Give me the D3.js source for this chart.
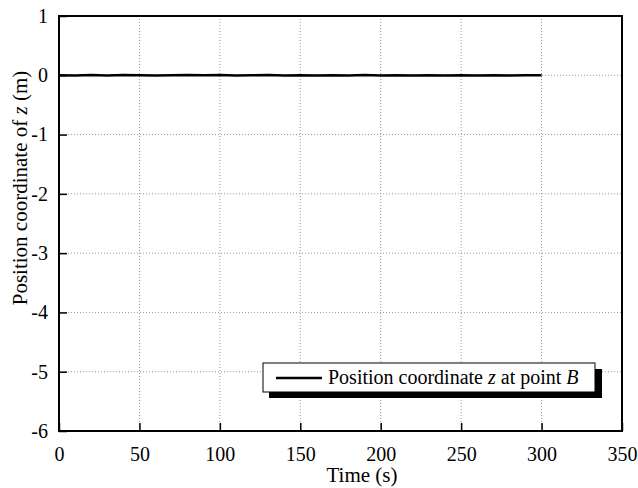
<!DOCTYPE html>
<html>
<head>
<meta charset="utf-8">
<script src="https://cdn.jsdelivr.net/npm/d3@7"></script>
</head>
<body style="margin:0;background:#fff">
<svg id="chart" width="638" height="488" font-family="Liberation Serif"></svg>
<script>
// time samples (s) and z coordinate at point B (m)
const times = [0, 10, 20, 30, 40, 50, 60, 70, 80, 90, 100, 110, 120, 130, 140, 150,
    160, 170, 180, 190, 200, 210, 220, 230, 240, 250, 260, 270, 280, 290, 300]
const zValues = [0.000, -0.004, 0.003, -0.002, 0.004, 0.001, -0.003, 0.002, 0.005, -0.001, 0.003,
    -0.004, 0.002, 0.004, -0.002, 0.001, -0.005, 0.002, -0.003, 0.003, -0.002, 0.001,
    -0.004, 0.002, -0.003, 0.000, -0.005, 0.002, -0.003, -0.001, 0.000]
const xTicks = [0, 50, 100, 150, 200, 250, 300, 350]
const yTicks = [1, 0, -1, -2, -3, -4, -5, -6]
const legendLabel = ['Position coordinate ', 'z', ' at point ', 'B']
const yTitle = ['Position coordinate of ', 'z', ' (m)']

const FONT = 'Liberation Serif'

const svg = d3.select('#chart')
const m = { left: 59, right: 622, top: 16, bottom: 431 }

const x = d3.scaleLinear().domain([0, 350]).range([m.left, m.right])
const y = d3.scaleLinear().domain([-6, 1]).range([m.bottom, m.top])

/// grid ////////
svg.append('g').selectAll('line')
    .data(xTicks.filter(d => d > 0 && d < 350))
    .join('line')
    .attr('x1', d => x(d)).attr('x2', d => x(d))
    .attr('y1', m.top).attr('y2', m.bottom)
    .attr('stroke', '#999').attr('stroke-width', 1).attr('stroke-dasharray', '1,2')

svg.append('g').selectAll('line')
    .data(yTicks.filter(d => d > -6 && d < 1))
    .join('line')
    .attr('x1', m.left).attr('x2', m.right)
    .attr('y1', d => y(d)).attr('y2', d => y(d))
    .attr('stroke', '#999').attr('stroke-width', 1).attr('stroke-dasharray', '1,2')

/// axes (inward ticks) ////////
const xAxis = d3.axisBottom(x).tickValues(xTicks).tickSize(-8).tickPadding(16)
const gx = svg.append('g').attr('transform', `translate(0,${m.bottom})`).call(xAxis)
gx.attr('font-family', FONT).attr('font-size', 20)
gx.select('.domain').remove()
gx.selectAll('line').attr('stroke', '#000').attr('stroke-width', 1.5)
gx.selectAll('text').attr('fill', '#000')

const yAxis = d3.axisLeft(y).tickValues(yTicks).tickSize(-8).tickPadding(11)
const gy = svg.append('g').attr('transform', `translate(${m.left},0)`).call(yAxis)
gy.attr('font-family', FONT).attr('font-size', 20)
gy.select('.domain').remove()
gy.selectAll('line').attr('stroke', '#000').attr('stroke-width', 1.5)
gy.selectAll('text').attr('fill', '#000')
    .text(d => d < 0 ? '-' + Math.abs(d) : d)

/// data line ////////
const line = d3.line().x((d, i) => x(times[i])).y(d => y(d))
svg.append('path')
    .datum(zValues)
    .attr('d', line)
    .attr('fill', 'none')
    .attr('stroke', '#000')
    .attr('stroke-width', 2.5)

/// frame ////////
svg.append('rect')
    .attr('x', m.left).attr('y', m.top)
    .attr('width', m.right - m.left).attr('height', m.bottom - m.top)
    .attr('fill', 'none').attr('stroke', '#000').attr('stroke-width', 2)

/// legend ////////
const lg = svg.append('g')
lg.append('rect').attr('x', 269).attr('y', 369).attr('width', 333).attr('height', 29).attr('fill', '#000')
lg.append('rect').attr('x', 263).attr('y', 363).attr('width', 332).attr('height', 29)
    .attr('fill', '#fff').attr('stroke', '#000').attr('stroke-width', 1)
lg.append('line').attr('x1', 276).attr('x2', 322).attr('y1', 378).attr('y2', 378)
    .attr('stroke', '#000').attr('stroke-width', 2.5)
lg.append('text').attr('x', 328).attr('y', 384)
    .attr('font-family', FONT).attr('font-size', 20)
    .selectAll('tspan')
    .data(legendLabel)
    .join('tspan')
    .attr('font-style', (d, i) => i % 2 === 1 ? 'italic' : 'normal')
    .text(d => d)

/// axis titles ////////
svg.append('text').attr('x', 362).attr('y', 482).attr('text-anchor', 'middle')
    .attr('font-family', FONT).attr('font-size', 21).text('Time (s)')

svg.append('text')
    .attr('transform', 'translate(27,188) rotate(-90)')
    .attr('text-anchor', 'middle')
    .attr('font-family', FONT).attr('font-size', 21)
    .selectAll('tspan')
    .data(yTitle)
    .join('tspan')
    .attr('font-style', (d, i) => i === 1 ? 'italic' : 'normal')
    .text(d => d)
</script>
</body>
</html>
